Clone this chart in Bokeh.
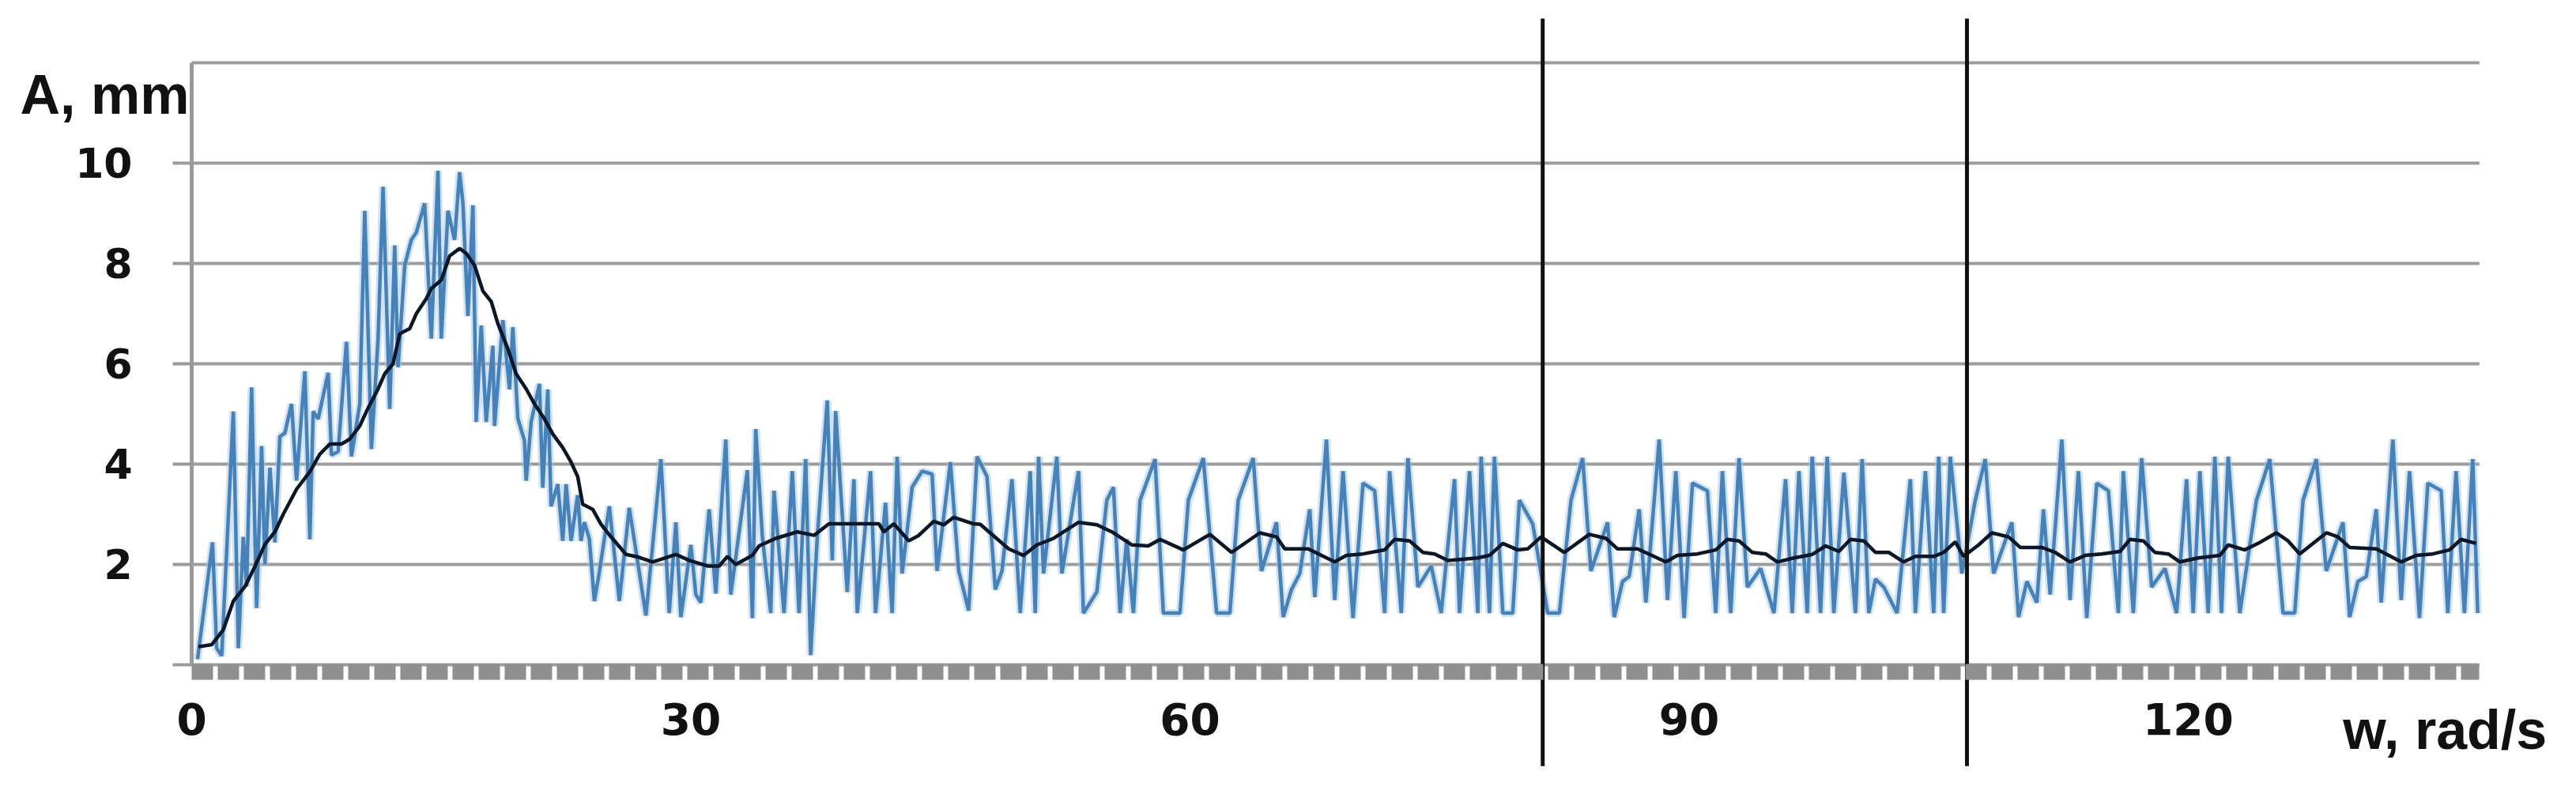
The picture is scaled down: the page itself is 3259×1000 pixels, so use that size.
from bokeh.plotting import figure
from bokeh.models import Range1d, FixedTicker, ColumnDataSource
from bokeh.core.properties import value
from bokeh.embed import file_html
from bokeh.resources import INLINE

# ---------------- data ----------------
# measured (noisy) amplitude, A [mm] vs w [rad/s]
blue_w = [0.35, 1.25, 1.5, 1.8, 2.5, 2.8, 3.1, 3.3, 3.6, 3.9, 4.2, 4.4, 4.7, 5.0, 5.3, 5.6,
          6.0, 6.3, 6.8, 7.1, 7.3, 7.6, 8.2, 8.4, 8.8, 9.3, 9.6, 10.1, 10.4, 10.8, 11.2, 11.5,
          11.9, 12.2, 12.4, 12.8, 13.2, 13.5, 14.0, 14.4, 14.8, 15.0, 15.4, 15.8, 16.1, 16.3,
          16.6, 16.9, 17.1, 17.4, 17.7, 18.1, 18.2, 18.7, 19.1, 19.3, 19.6, 20.0, 20.1, 20.4,
          20.9, 21.1, 21.4, 21.6, 22.0, 22.3, 22.5, 22.8, 23.2, 23.4, 23.6, 23.9, 24.2, 24.5,
          25.1, 25.7, 26.3, 27.3, 28.2, 28.7, 29.1, 29.4, 30.0, 30.3, 30.6, 31.1, 31.5, 32.1,
          32.4, 33.4, 33.7, 33.9, 34.3, 34.8, 35.0, 35.6, 36.1, 36.5, 36.9, 37.2, 37.6, 38.2,
          38.5, 38.7, 39.4, 39.8, 40.0, 40.8, 41.1, 41.7, 42.1, 42.4, 42.7, 43.3, 43.9, 44.5,
          44.8, 45.6, 46.1, 46.7, 47.2, 47.8, 48.3, 48.7, 49.3, 49.8, 50.4, 50.7, 50.9, 51.2,
          52.0, 52.3, 53.3, 53.6, 54.4, 55.0, 55.4, 55.8, 56.2, 56.6, 57.0, 57.9, 58.4, 58.9,
          59.4, 59.9, 60.8, 61.6, 62.4, 62.9, 63.8, 64.3, 65.2, 65.6, 66.1, 66.6, 67.2, 67.5,
          68.2, 68.7, 69.2, 69.8, 70.4, 71.1, 71.7, 72.0, 72.7, 73.1, 73.7, 74.5, 75.1, 75.9,
          76.2, 76.8, 77.3, 77.5, 78.0, 78.3, 78.8, 79.4, 79.8, 80.6, 81.5, 82.2, 82.9, 83.6,
          84.1, 85.1, 85.5, 86.0, 86.4, 87.0, 87.4, 88.2, 88.7, 89.2, 89.7, 90.2, 91.1, 91.6,
          92.0, 92.5, 93.0, 93.5, 94.3, 95.1, 95.8, 96.2, 96.6, 97.1, 97.4, 97.9, 98.3, 98.7,
          99.3, 100.0, 100.4, 100.8, 101.2, 101.7, 102.5, 103.3, 103.6, 104.2, 104.7, 105.0,
          105.3, 105.7, 106.4, 107.2, 107.8, 108.3, 109.4, 109.8, 110.3, 110.9, 111.3, 111.7,
          112.4, 112.9, 113.4, 113.9, 114.5, 115.2, 115.8, 116.1, 116.7, 117.2, 117.8, 118.6,
          119.3, 119.9, 120.3, 120.7, 121.2, 121.6, 122.0, 122.4, 123.1, 124.1, 124.9, 125.7,
          126.4, 126.9, 127.7, 128.3, 129.3, 129.7, 130.2, 130.7, 131.3, 131.6, 132.3, 132.8,
          133.3, 133.9, 134.4, 135.2, 135.6, 136.1, 136.6, 137.1, 137.4]
blue_A = [0.11, 2.44, 0.33, 0.18, 5.05, 0.33, 2.55, 1.56, 5.53, 1.13, 4.36, 2.0, 3.93, 2.44, 4.55, 4.62,
          5.2, 3.67, 5.85, 2.5, 5.05, 4.9, 5.82, 4.18, 4.25, 6.44, 4.15, 5.2, 9.05, 4.3, 6.5, 9.53,
          5.1, 8.36, 5.93, 7.96, 8.47, 8.62, 9.2, 6.5, 9.85, 6.5, 9.05, 8.47, 9.82, 9.2,
          6.95, 9.16, 4.84, 6.76, 4.84, 6.36, 4.76, 6.87, 5.49, 6.73, 4.91, 4.47, 3.67, 4.84,
          5.6, 3.53, 5.49, 3.16, 3.6, 2.47, 3.6, 2.47, 3.38, 2.47, 2.84, 2.51, 1.27, 1.85,
          3.16, 1.27, 3.13, 0.98, 4.1, 1.03, 2.84, 0.95, 2.39, 1.4, 1.24, 3.1, 1.42, 4.49,
          1.4, 3.88, 0.93, 4.7, 2.55, 1.03, 3.47, 1.03, 3.86, 1.03, 4.1, 0.19, 2.55, 5.27,
          2.08, 5.06, 1.45, 3.7, 1.03, 3.86, 1.03, 3.23, 1.03, 4.15, 1.82, 3.54, 3.86, 3.8,
          1.87, 4.04, 1.87, 1.08, 4.15, 3.75, 1.5, 1.87, 3.7, 1.03, 3.86, 1.03, 4.15, 1.82,
          4.15, 1.82, 3.86, 1.03, 1.45, 3.28, 3.54, 1.03, 2.5, 1.03, 3.28, 4.1, 1.03, 1.03,
          1.03, 3.28, 4.12, 1.03, 1.03, 3.28, 4.12, 1.87, 2.84, 0.95, 1.5, 1.82, 3.1, 1.35,
          4.49, 1.29, 3.86, 0.93, 3.62, 3.47, 1.03, 3.86, 1.03, 4.12, 1.55, 1.97, 1.03, 3.7,
          1.03, 3.86, 1.03, 4.15, 1.03, 4.15, 1.03, 1.03, 3.28, 2.81, 1.03, 1.03, 3.28, 4.12,
          1.87, 2.84, 0.95, 1.66, 1.76, 3.1, 1.24, 4.49, 1.29, 3.86, 0.93, 3.62, 3.47, 1.03,
          3.86, 1.03, 4.12, 1.55, 1.92, 1.03, 3.7, 1.03, 3.86, 1.03, 4.15, 1.03, 4.15, 1.03,
          3.83, 1.03, 4.1, 1.03, 1.71, 1.55, 1.03, 3.7, 1.03, 3.86, 1.03, 4.15,
          1.03, 4.15, 1.82, 3.28, 4.1, 1.82, 2.84, 0.95, 1.66, 1.24, 3.1, 1.4,
          4.49, 1.29, 3.86, 0.93, 3.62, 3.47, 1.03, 3.86, 1.03, 4.12, 1.55, 1.92,
          1.03, 3.7, 1.03, 3.86, 1.03, 4.15, 1.03, 4.15, 1.03, 3.28, 4.1, 1.03,
          1.03, 3.28, 4.1, 1.87, 2.84, 0.95, 1.66, 1.76, 3.1, 1.24, 4.49, 1.29,
          3.86, 0.93, 3.62, 3.47, 1.03, 3.86, 1.03, 4.1, 1.03]

# smoothed amplitude (black curve)
black_w = [0.4, 1.2, 1.9, 2.5, 3.2, 3.8, 4.4, 5.0, 5.5, 6.3, 7.1, 7.7, 8.3, 9.0, 9.5, 10.1,
           10.5, 11.2, 11.6, 12.1, 12.5, 13.1, 13.5, 14.1, 14.4, 15.0, 15.5, 16.1, 16.5, 17.0,
           17.5, 18.0, 18.4, 19.0, 19.5, 20.1, 20.6, 21.2, 21.7, 22.3, 22.8, 23.2, 23.5, 24.1,
           24.6, 25.2, 26.1, 26.8, 27.7, 29.1, 29.9, 31.0, 31.7, 32.2, 32.7, 33.7, 34.1, 35.1,
           36.4, 37.4, 38.3, 39.6, 41.3, 41.6, 42.2, 43.1, 43.7, 44.6, 45.2, 45.8, 47.0, 47.4,
           49.1, 50.0, 50.8, 51.8, 53.3, 54.4, 55.3, 56.5, 57.5, 58.2, 59.6, 61.2, 62.5, 64.2,
           65.2, 65.7, 67.1, 68.7, 69.4, 70.4, 71.7, 72.3, 73.2, 74.0, 74.7, 75.5, 76.2, 77.3,
           78.0, 78.8, 79.7, 80.3, 81.1, 82.5, 84.0, 85.0, 85.7, 86.9, 88.6, 89.3, 90.5, 91.6,
           92.3, 93.0, 93.8, 94.6, 95.3, 96.3, 97.4, 98.2, 99.0, 99.7, 100.5, 101.2, 102.0,
           102.9, 103.6, 104.7, 105.3, 106.0, 106.5, 107.4, 108.2, 109.2, 109.9, 111.2, 112.0,
           112.9, 113.8, 114.8, 115.9, 116.5, 117.3, 118.0, 118.8, 119.5, 120.6, 121.9, 122.4,
           123.4, 124.2, 125.3, 126.0, 126.7, 128.3, 129.0, 129.7, 131.3, 132.8, 133.7, 134.7,
           135.7, 136.4, 137.3]
black_A = [0.36, 0.4, 0.7, 1.27, 1.56, 1.96, 2.4, 2.65, 3.0, 3.5, 3.85, 4.2, 4.4, 4.4, 4.5, 4.76,
           5.05, 5.5, 5.8, 6.0, 6.6, 6.7, 7.0, 7.3, 7.5, 7.67, 8.15, 8.3, 8.2, 7.96,
           7.45, 7.24, 6.8, 6.3, 5.8, 5.5, 5.2, 4.9, 4.6, 4.33, 4.04, 3.75, 3.2, 3.1,
           2.8, 2.55, 2.2, 2.15, 2.05, 2.2, 2.08, 1.97, 1.97, 2.16, 2.0, 2.18, 2.37, 2.52,
           2.65, 2.58, 2.81, 2.81, 2.81, 2.65, 2.81, 2.47, 2.58, 2.86, 2.79, 2.94, 2.81, 2.8,
           2.31, 2.18, 2.39, 2.52, 2.84, 2.79, 2.65, 2.39, 2.37, 2.5, 2.29, 2.6, 2.24, 2.63,
           2.55, 2.31, 2.31, 2.05, 2.18, 2.21, 2.29, 2.5, 2.47, 2.24, 2.21, 2.08, 2.1, 2.13,
           2.18, 2.42, 2.29, 2.31, 2.55, 2.24, 2.6, 2.52, 2.31, 2.31, 2.05, 2.18, 2.21, 2.29,
           2.5, 2.47, 2.24, 2.21, 2.05, 2.13, 2.2, 2.37, 2.26, 2.5, 2.47, 2.24, 2.24,
           2.05, 2.16, 2.16, 2.24, 2.45, 2.16, 2.39, 2.63, 2.55, 2.34, 2.34, 2.24,
           2.05, 2.18, 2.21, 2.26, 2.5, 2.47, 2.24, 2.21, 2.05, 2.13, 2.18, 2.39,
           2.29, 2.42, 2.63, 2.47, 2.21, 2.63, 2.55, 2.34, 2.31, 2.05, 2.18, 2.21,
           2.29, 2.5, 2.42]

x_ticks = [0, 30, 60, 90, 120]
y_ticks = [0, 2, 4, 6, 8, 10]
grid_levels = [0, 2, 4, 6, 8, 10, 12]
marker_w = [81.2, 106.7]          # vertical reference lines
x_label = "w, rad/s"
y_label = "A, mm"

# ---------------- figure ----------------
W, H = 3243, 984
X_END = 137.5
p = figure(width=W, height=H, output_backend="svg", toolbar_location=None,
           x_range=Range1d(-11.5, 142.57), y_range=Range1d(-2.252, 13.244),
           min_border=0, min_border_left=0, min_border_right=0,
           min_border_top=0, min_border_bottom=0)
p.outline_line_color = None
p.grid.visible = False
p.background_fill_color = "white"

# horizontal grid lines
p.segment(x0=[0] * len(grid_levels), x1=[X_END] * len(grid_levels),
          y0=grid_levels, y1=grid_levels, line_color="#9c9c9c", line_width=4)

# measured curve (halo + line)
src_b = ColumnDataSource(dict(w=blue_w, A=blue_A))
p.line("w", "A", source=src_b, line_color="#a4c8e6", line_width=10, line_alpha=0.5)
p.line("w", "A", source=src_b, line_color="#4682b9", line_width=4.5)

# smoothed curve
p.line(black_w, black_A, line_color="#0b1626", line_width=4.5)

# vertical reference lines
p.segment(x0=marker_w, x1=marker_w, y0=[-2.02] * 2, y1=[12.88] * 2,
          line_color="#111111", line_width=5)

# axes
xa = p.xaxis[0]
xa.fixed_location = -0.14
xa.bounds = (0, X_END)
xa.ticker = FixedTicker(ticks=x_ticks)
xa.axis_line_color = "#8f8f8f"
xa.axis_line_width = 20
xa.axis_line_dash = "27 6"
xa.major_tick_line_color = None
xa.minor_tick_line_color = None
xa.major_label_text_font = "DejaVu Sans"
xa.major_label_text_font_style = "bold"
xa.major_label_text_font_size = "55px"
xa.major_label_text_color = "#111111"
xa.major_label_standoff = 34

ya = p.yaxis[0]
ya.fixed_location = 0
ya.bounds = (0, 12)
ya.ticker = FixedTicker(ticks=y_ticks)
ya.major_label_overrides = {0: ""}
ya.axis_line_color = "#9a9a9a"
ya.axis_line_width = 5
ya.major_tick_line_color = "#9a9a9a"
ya.major_tick_line_width = 4
ya.major_tick_out = 24
ya.major_tick_in = 0
ya.minor_tick_line_color = None
ya.major_label_text_font = "DejaVu Sans"
ya.major_label_text_font_style = "bold"
ya.major_label_text_font_size = "52px"
ya.major_label_text_color = "#111111"
ya.major_label_standoff = 51

# axis titles
p.text(x=[-10.31], y=[11.36], text=[y_label], text_font=value("Liberation Sans"),
       text_font_style="bold", text_font_size="70px", text_color="#111111",
       text_baseline="alphabetic", text_align="left")
p.text(x=[129.3], y=[-1.3], text=[x_label], text_font=value("Liberation Sans"),
       text_font_style="bold", text_font_size="70px", text_color="#111111",
       text_baseline="alphabetic", text_align="left")

open("out.html", "w").write(file_html(p, INLINE))
